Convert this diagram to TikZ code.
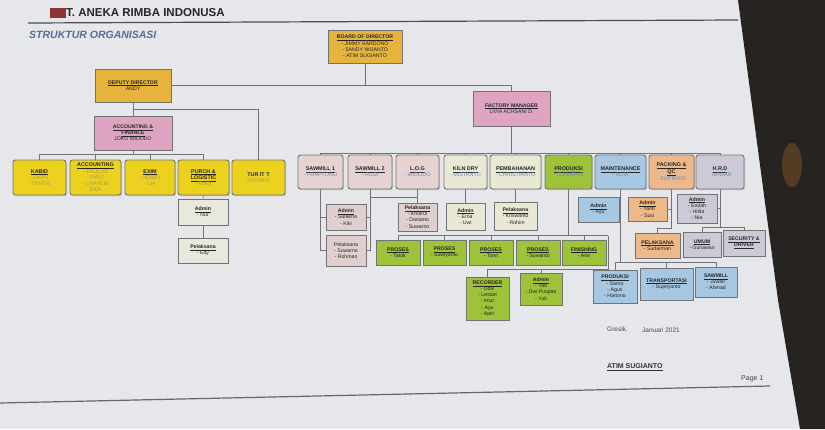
\documentclass[tikz,border=0pt]{standalone}
\usepackage{fontspec}
\setmainfont{Liberation Sans}
\usetikzlibrary{calc,shadows}
\definecolor{paper}{HTML}{E6E7EA}
\definecolor{darkbg}{HTML}{262320}
\definecolor{gold}{HTML}{E6B43C}
\definecolor{yel}{HTML}{ECD21E}
\definecolor{pinkb}{HTML}{DEA4C2}
\definecolor{sawc}{HTML}{E6D2D0}
\definecolor{cream}{HTML}{E8E8D4}
\definecolor{grn}{HTML}{9EC23A}
\definecolor{blu}{HTML}{A6C8E2}
\definecolor{orn}{HTML}{EEB98A}
\definecolor{lav}{HTML}{CCCAD6}
\definecolor{beige}{HTML}{E9E8DC}
\definecolor{sadmc}{HTML}{E0CFCF}
\definecolor{ylname}{HTML}{A89C5A}
\definecolor{blname}{HTML}{6F88B5}
\definecolor{subt}{HTML}{5A6C96}
\newcommand\ttl[1]{\underline{\textbf{#1}}}
\newcommand\yn[1]{\textcolor{ylname}{#1}}
\newcommand\bn[1]{\textcolor{blname}{#1}}
\newcommand\bx[7]{\node[#6, minimum width={(#4)-(#2)}, minimum height={(#5)-(#3)}] (#1) at ({((#2)+(#4))/2},{((#3)+(#5))/2}) {#7};}
\begin{document}
\begin{tikzpicture}[x=1pt,y=-1pt,
  boxA/.style={line width=0.9pt, rounded corners=2.5pt, align=center, inner sep=0.3pt,
    font=\fontsize{5.4}{6.2}\selectfont, text=black!85, draw=black!55,
    drop shadow={shadow xshift=1.2pt,shadow yshift=-1.2pt,fill=black!35}},
  boxB/.style={line width=0.7pt, align=center, inner sep=0.3pt,
    font=\fontsize{5.2}{6.2}\selectfont, text=black!85, draw=black!55,
    drop shadow={shadow xshift=1.2pt,shadow yshift=-1.2pt,fill=black!30}},
  con/.style={draw=black!55, line width=0.6pt}]
\fill[paper] (0,0) rectangle (825,429);
\useasboundingbox (0,0) rectangle (825,429);
% dark background at right
\fill[darkbg] (738,0) -- (825,0) -- (825,429) -- (800,429) -- (778,300) -- (758,150) -- cycle;
\fill[brown!60!black, opacity=0.6] (792,165) ellipse (10 and 22);
% header
\fill[red!45!black!80] (50,8) rectangle (66,18);
\node[anchor=west, inner sep=0, font=\fontsize{11.5}{12}\selectfont\bfseries, text=black!85] (title) at (66,13) {T. ANEKA RIMBA INDONUSA};
\draw[line width=1.2pt, black!70] (28,23) -- (738,20);
\node[anchor=west, inner sep=0, font=\fontsize{10.5}{11}\selectfont\bfseries\itshape, text=subt] (stitle) at (29,35) {STRUKTUR ORGANISASI};
% footer
\draw[line width=1.2pt, black!60] (0,403) -- (770,386);
\node[anchor=west, inner sep=0, font=\fontsize{6.5}{7}\selectfont, text=black!70] (gresik) at (607,330) {Gresik,};
\node[anchor=west, inner sep=0, font=\fontsize{6.5}{7}\selectfont, text=black!70] (tgl) at (642,330) {Januari 2021};
\node[anchor=west, inner sep=0, font=\fontsize{7}{7}\selectfont, text=black!80] (sign) at (607,367) {\ttl{ATIM SUGIANTO}};
\node[anchor=west, inner sep=0, font=\fontsize{7}{7}\selectfont, text=black!75] (page) at (741,379) {Page 1};

% top level
\bx{board}{328}{30}{402}{63}{boxB,fill=gold}{\ttl{BOARD OF DIRECTOR}\\- JIMMY KARDONO\\- SANDY WIJANTO\\- ATIM SUGIANTO}
\bx{dep}{95}{69}{171}{102}{boxB,fill=gold}{\ttl{DEPUTY DIRECTOR}\\ANDY}
\bx{acc}{94}{116}{172}{150}{boxB,fill=pinkb}{\ttl{ACCOUNTING \&}\\\ttl{FINANCE}\\JOKO WIDODO}
\bx{fm}{473}{91}{550}{126}{boxB,fill=pinkb}{\ttl{FACTORY MANAGER}\\LIVIA ACHSANI D.}

% left row
\bx{kabid}{13}{160}{66}{195}{boxA,fill=yel}{\ttl{KABID}\\\yn{- IWAN}\\\yn{- TENTRI}}
\bx{accg}{70}{160}{121}{195}{boxA,fill=yel}{\ttl{ACCOUNTING}\\\yn{- PAULUS}\\\yn{- PIPIT}\\\yn{- CHARLIS}\\\yn{EKA}}
\bx{exim}{125}{160}{175}{195}{boxA,fill=yel}{\ttl{EXIM}\\\yn{- HENRY}\\\yn{- LIA}}
\bx{purch}{178}{160}{229}{195}{boxA,fill=yel}{\ttl{PURCH \&}\\\ttl{LOGISTIC}\\\yn{- ENDI}}
\bx{tur}{232}{160}{285}{195}{boxA,fill=yel}{\textbf{TUR IT T}\\\yn{AFFANDI}}
\bx{padm}{178}{199}{228}{225}{boxB,fill=beige}{\ttl{Admin}\\- Nur}
\bx{ppel}{178}{238}{228}{263}{boxB,fill=beige}{\ttl{Pelaksana}\\- Edy}

% right row
\bx{saw1}{298}{155}{343}{189}{boxA,fill=sawc}{\ttl{SAWMILL 1}\\\bn{- PRAPTONO}}
\bx{saw2}{348}{155}{392}{189}{boxA,fill=sawc}{\ttl{SAWMILL 2}\\\bn{- RUDI}}
\bx{log}{396}{155}{439}{189}{boxA,fill=sawc}{\ttl{L.O.G}\\\bn{- WIDODO}}
\bx{kiln}{444}{155}{487}{189}{boxA,fill=cream}{\ttl{KILN DRY}\\\bn{- MISTANTO}}
\bx{pemb}{490}{155}{541}{189}{boxA,fill=cream}{\ttl{PEMBAHANAN}\\\bn{- CHRISTIANTO}}
\bx{prod}{545}{155}{592}{189}{boxA,fill=grn}{\ttl{PRODUKSI}\\\bn{- SUNARYO}}
\bx{maint}{595}{155}{646}{189}{boxA,fill=blu}{\ttl{MAINTENANCE}\\\bn{- ALIM}}
\bx{pack}{649}{155}{694}{189}{boxA,fill=orn}{\ttl{PACKING \&}\\\ttl{QC}\\\bn{- SUPRIADI}}
\bx{hrd}{696}{155}{744}{189}{boxA,fill=lav}{\ttl{H.R.D}\\\bn{- NAWAN}}

% sub boxes
\bx{sadm}{326}{204}{366}{230}{boxB,fill=sadmc}{\ttl{Admin}\\- Sulaeha\\- Kiki}
\bx{spel}{326}{235}{366}{266}{boxB,fill=sadmc}{Pelaksana\\- Suwarno\\- Rohman}
\bx{lpel}{398}{203}{437}{231}{boxB,fill=sadmc}{\ttl{Pelaksana}\\- Khoirul\\- Darianto\\- Suwarno}
\bx{kadm}{446}{203}{485}{230}{boxB,fill=cream}{\ttl{Admin}\\- Erna\\- Uwi}
\bx{bpel}{494}{202}{537}{230}{boxB,fill=cream}{\ttl{Pelaksana}\\- Kriswanto\\- Rohim}
\bx{pr1}{376}{240}{420}{265}{boxB,fill=grn}{\ttl{PROSES}\\- Tatok}
\bx{pr2}{423}{240}{466}{265}{boxB,fill=grn}{\ttl{PROSES}\\- Suwiyanto}
\bx{pr3}{469}{240}{513}{265}{boxB,fill=grn}{\ttl{PROSES}\\- Tonri}
\bx{pr4}{516}{240}{560}{265}{boxB,fill=grn}{\ttl{PROSES}\\- Suwanto}
\bx{fin}{562}{240}{606}{265}{boxB,fill=grn}{\ttl{FINISHING}\\- Arie}
\bx{rec}{466}{277}{509}{320}{boxB,fill=grn}{\ttl{RECORDER}\\- Udik\\- Lestari\\- Imur\\- Ayu\\- Apin}
\bx{gadm}{520}{273}{562}{305}{boxB,fill=grn}{\ttl{Admin}\\- Yati\\- Dwi Puspita\\- Yuli}
\bx{madm}{578}{197}{619}{222}{boxB,fill=blu}{\ttl{Admin}\\- Ayu}
\bx{mprod}{593}{270}{637}{303}{boxB,fill=blu}{\ttl{PRODUKSI}\\- Sarno\\- Agus\\- Hartono}
\bx{mtrans}{640}{268}{693}{300}{boxB,fill=blu}{\ttl{TRANSPORTASI}\\- Supriyanto}
\bx{msaw}{695}{267}{737}{297}{boxB,fill=blu}{\ttl{SAWMILL}\\- Juwari\\- Ahmad}
\bx{qadm}{628}{197}{667}{221}{boxB,fill=orn}{\ttl{Admin}\\- Yanti\\- Susi}
\bx{qpel}{635}{233}{680}{258}{boxB,fill=orn}{\ttl{PELAKSANA}\\- Sudarman}
\bx{hadm}{677}{194}{717}{223}{boxB,fill=lav}{\ttl{Admin}\\- Endah\\- Hilda\\- Nia}
\bx{hum}{683}{232}{721}{257}{boxB,fill=lav}{\ttl{UMUM}\\- Gunawan}
\bx{hsec}{723}{230}{765}{256}{boxB,fill=lav}{\ttl{SECURITY \&}\\\ttl{DRIVER}}

% connectors: top
\draw[con] (board.south) -- (board.south |- dep.east);
\draw[con] (dep.east) -| (fm.north);
\draw[con] (dep.south) -- (acc.north);
\coordinate (dj) at ($(dep.south)!0.5!(acc.north)$);
\draw[con] (dj) -| (tur.north);
\coordinate (accb) at ($(acc.south)+(0,4)$);
\draw[con] (acc.south) -- (accb);
\draw[con] (kabid.north) |- (accb) -| (purch.north);
\draw[con] (accg.north) -- (accg.north |- accb);
\draw[con] (exim.north) -- (exim.north |- accb);
\draw[con] (purch.south) -- (padm.north);
\draw[con] (padm.south) -- (ppel.north);
% factory manager
\coordinate (fmb) at ($(fm.south)+(0,27)$);
\draw[con] (fm.south) -- (fmb);
\draw[con] (saw1.north) |- (fmb) -| (hrd.north);
\foreach \n in {saw2,log,kiln,pemb,prod,maint,pack}
  \draw[con] (\n.north) -- (\n.north |- fmb);
% sawmill
\draw[con] (saw1.south) |- (spel.west);
\draw[con] (saw2.south) |- (spel.east);
\draw[con] (sadm.west) -- (sadm.west -| saw1.south);
\draw[con] (sadm.east) -- (sadm.east -| saw2.south);
\draw[con] (log.south) -- (lpel.north);
\coordinate (lj) at ($(log.south)!0.6!(lpel.north)$);
\draw[con] (lj) -- (lj -| saw2.south);
\draw[con] (kiln.south) -- (kadm.north);
\draw[con] (pemb.south) -- (bpel.north);
% produksi
\coordinate (pb) at ($(pr1.north)+(0,-4)$);
\coordinate (pbr) at ($(fin.east |- pb)+(2,0)$);
\draw[con] (prod.south) -- (prod.south |- pb);
\draw[con] (pr1.north) |- (pbr);
\foreach \n in {pr2,pr3,pr4,fin}
  \draw[con] (\n.north) -- (\n.north |- pb);
\coordinate (rb) at ($(rec.north)+(0,-7)$);
\draw[con] (pbr) |- (rb) -- (rec.north);
\draw[con] (gadm.north) -- (gadm.north |- rb);
% maintenance
\coordinate (mb) at ($(mtrans.north)+(0,-5)$);
\draw[con] (maint.south) -- (maint.south |- mb);
\draw[con] (mprod.north) |- (mb) -| (msaw.north);
\draw[con] (mtrans.north) -- (mb);
\draw[con] (madm.east) -- (madm.east -| maint.south);
% packing
\coordinate (qb) at ($(qpel.north)+(0,-4)$);
\draw[con] (pack.south) |- (qb) -- (qpel.north);
\draw[con] (qadm.east) -- (qadm.east -| pack.south);
% hrd
\coordinate (hb) at ($(hum.north)+(0,-4)$);
\draw[con] (hrd.south) -- (hrd.south |- hb);
\draw[con] (hum.north) |- (hb) -| (hsec.north);
\draw[con] (hadm.east) -- (hadm.east -| hrd.south);
\end{tikzpicture}
\end{document}
